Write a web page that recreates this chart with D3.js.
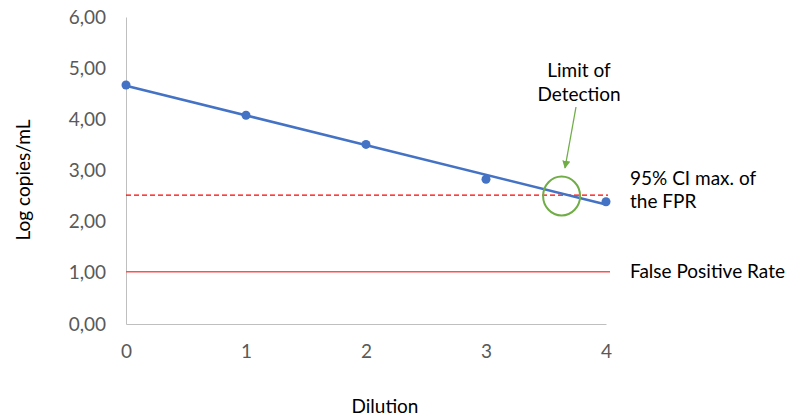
<!DOCTYPE html>
<html><head><meta charset="utf-8">
<script src="https://cdn.jsdelivr.net/npm/d3@7"></script>
<style>body{margin:0;background:#fff}svg text{font-family:Lato,"Open Sans",sans-serif;font-weight:400}</style>
</head><body>
<svg id="c" width="787" height="415"></svg>
<script>
const dilution = [0, 1, 2, 3, 4];
const logCopies = [4.67, 4.08, 3.51, 2.83, 2.39];
const fprValue = 1.02;
const ciMaxValue = 2.52;
const yTicks = [0, 1, 2, 3, 4, 5, 6];
const xTicks = [0, 1, 2, 3, 4];
const lodX = 3.63;

const svg = d3.select("#c");
const x = d3.scaleLinear().domain([0, 4]).range([126, 606]);
const y = d3.scaleLinear().domain([0, 6]).range([324, 17]);
const fmt = v => d3.format(".2f")(v).replace(".", ",");

// axes
const gy = svg.append("g").attr("transform", "translate(126,0)")
  .call(d3.axisLeft(y).tickValues(yTicks).tickFormat(fmt).tickSize(0).tickPadding(20));
const gx = svg.append("g").attr("transform", "translate(0,324)")
  .call(d3.axisBottom(x).tickValues(xTicks).tickFormat(d3.format("d")).tickSize(0).tickPadding(21));
[gy, gx].forEach(g => {
  g.select(".domain").attr("stroke", "#BFBFBF").attr("stroke-width", 1);
  g.selectAll("text").attr("fill", "#595959").style("font-size", "19px").style("font-family", "Lato");
});

// reference lines
svg.append("line").attr("x1", x(0)).attr("x2", x(4) + 2).attr("y1", y(ciMaxValue)).attr("y2", y(ciMaxValue))
  .attr("stroke", "#FF0000").attr("stroke-width", 1.3).attr("stroke-dasharray", "5,3");
svg.append("line").attr("x1", x(0)).attr("x2", x(4) + 4).attr("y1", y(fprValue)).attr("y2", y(fprValue))
  .attr("stroke", "#FF5050").attr("stroke-width", 1.5);

// linear trendline from data
const mx = d3.mean(dilution), my = d3.mean(logCopies);
const slope = d3.sum(dilution.map((d, i) => (d - mx) * (logCopies[i] - my))) / d3.sum(dilution.map(d => (d - mx) ** 2));
const icpt = my - slope * mx;
svg.append("line").attr("x1", x(0)).attr("y1", y(icpt)).attr("x2", x(4)).attr("y2", y(icpt + slope * 4))
  .attr("stroke", "#4472C4").attr("stroke-width", 2.5);

svg.selectAll("circle.pt").data(dilution).join("circle").attr("class", "pt")
  .attr("cx", d => x(d)).attr("cy", (d, i) => y(logCopies[i])).attr("r", 4.5).attr("fill", "#4472C4");

// LOD circle
svg.append("ellipse").attr("cx", x(lodX)).attr("cy", 196).attr("rx", 18.5).attr("ry", 19.5)
  .attr("fill", "none").attr("stroke", "#70AD47").attr("stroke-width", 2);

// arrow
svg.append("defs").append("marker").attr("id", "ah").attr("viewBox", "0 0 10 10").attr("refX", 9).attr("refY", 5)
  .attr("markerWidth", 8).attr("markerHeight", 8).attr("orient", "auto").attr("markerUnits", "userSpaceOnUse")
  .append("path").attr("d", "M0,0 L10,5 L0,10 z").attr("fill", "#70AD47");
svg.append("line").attr("x1", 576).attr("y1", 107).attr("x2", 565).attr("y2", 168)
  .attr("stroke", "#70AD47").attr("stroke-width", 1.3).attr("marker-end", "url(#ah)");

// labels
const lab = (t, xx, yy, anchor) => svg.append("text").attr("x", xx).attr("y", yy).attr("text-anchor", anchor || "start")
  .attr("dominant-baseline", "central").attr("fill", "#000").style("font-size", "19px").text(t);
lab("Limit of", 579, 69, "middle");
lab("Detection", 579, 93, "middle");
lab("95% CI max. of", 630, 177);
lab("the FPR", 630, 200);
lab("False Positive Rate", 630, 270);
lab("Dilution", 385, 405, "middle");
svg.append("text").attr("transform", "translate(22,180) rotate(-90)").attr("text-anchor", "middle")
  .attr("dominant-baseline", "central").style("font-size", "19px").text("Log copies/mL");
</script>
</body></html>
